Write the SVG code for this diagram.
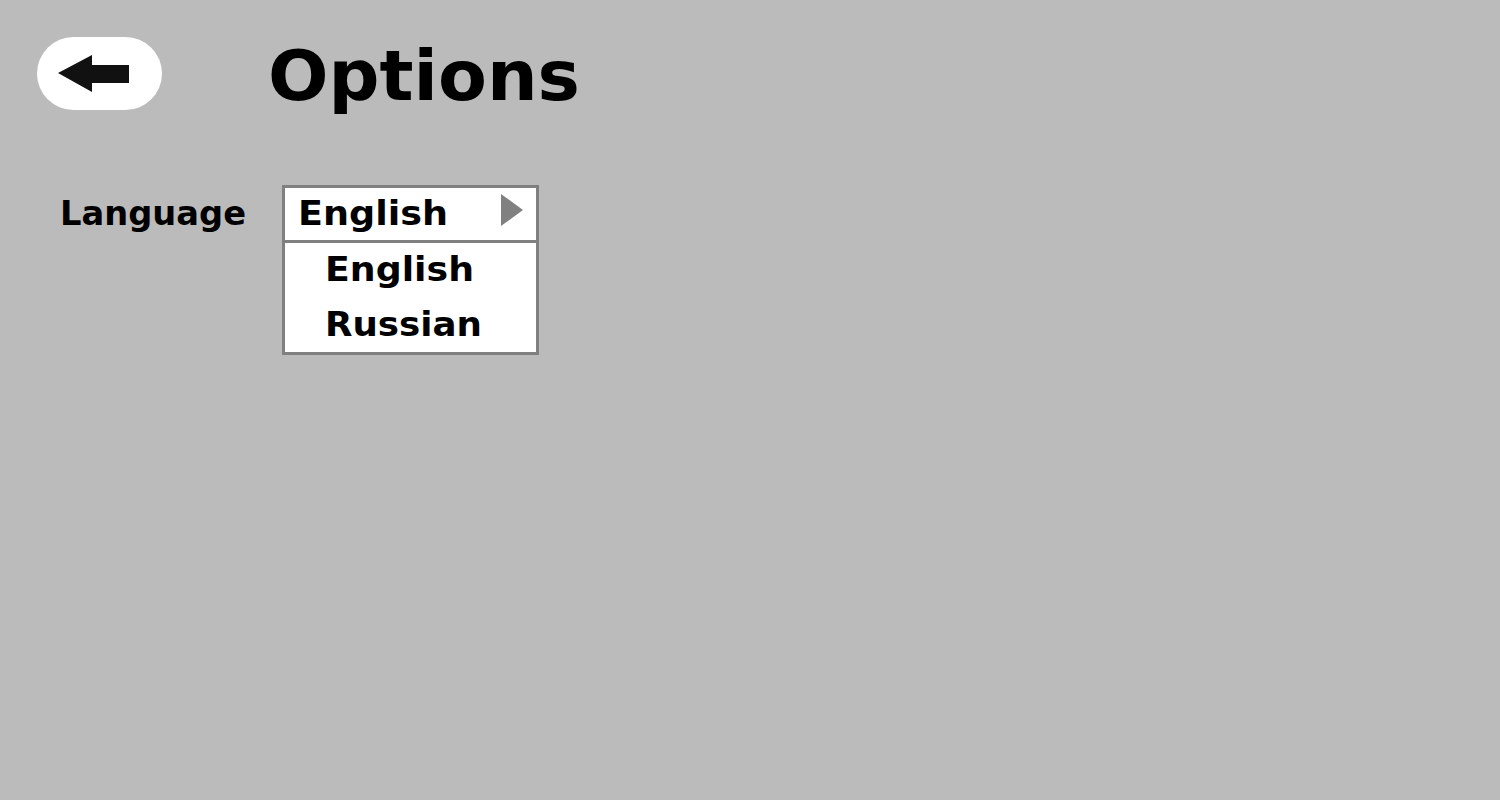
<svg xmlns="http://www.w3.org/2000/svg" width="1500" height="800" viewBox="0 0 1500 800">
<style>
.t{font-family:"DejaVu Sans","Liberation Sans",sans-serif;font-weight:bold;fill:#000}
.box{fill:#fff;stroke:#808080;stroke-width:3}
</style>
<rect width="1500" height="800" fill="#bbbbbb"/>
<g id="back-button">
<rect x="37" y="37" width="125" height="73" rx="36.5" fill="#fff"/>
<polygon points="58,73 92,55 92,65 129,65 129,83 92,83 92,92" fill="#111"/>
</g>
<g id="title">
<text class="t" x="268" y="100" font-size="70" textLength="312" lengthAdjust="spacingAndGlyphs">Options</text>
</g>
<g id="language-label">
<text class="t" x="60" y="225" font-size="34" textLength="186" lengthAdjust="spacingAndGlyphs">Language</text>
</g>
<g id="language-dropdown">
<rect class="box" x="283.5" y="186.5" width="254" height="167"/>
<line x1="283.5" y1="241.5" x2="537.5" y2="241.5" stroke="#808080" stroke-width="3"/>
<polygon points="501,194 523,210 501,226" fill="#808080"/>
<text class="t" x="298" y="225" font-size="34" textLength="150" lengthAdjust="spacingAndGlyphs">English</text>
<text class="t" x="325" y="281" font-size="34" textLength="149" lengthAdjust="spacingAndGlyphs">English</text>
<text class="t" x="325" y="336" font-size="34" textLength="157" lengthAdjust="spacingAndGlyphs">Russian</text>
</g>
<g id="connectors"/>
</svg>
